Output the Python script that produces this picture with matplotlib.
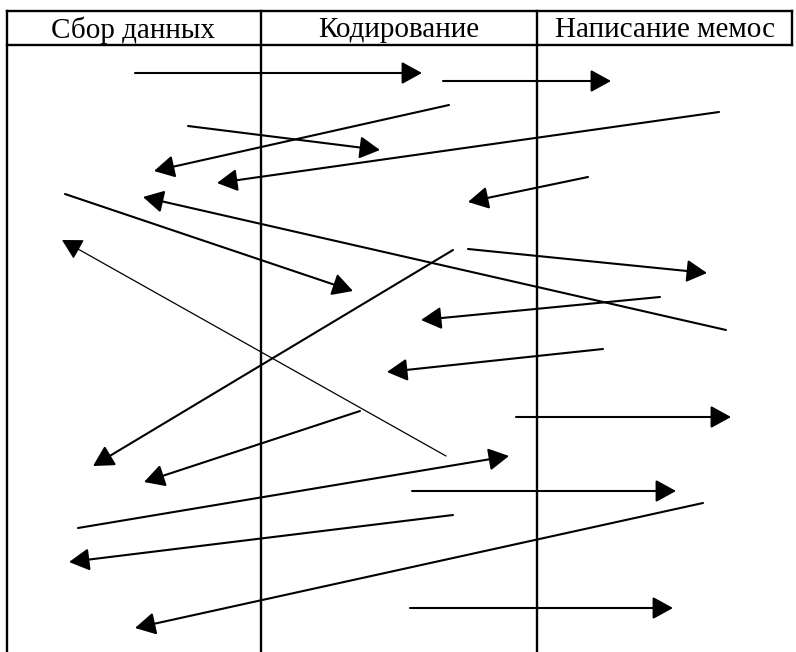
import matplotlib
matplotlib.use('Agg')
import matplotlib.pyplot as plt

# column headers
columns = ['Сбор данных', 'Кодирование', 'Написание мемос']
col_centers = [133, 399, 665]

# arrows in picture pixels: tail -> head
tail_x = [135, 443, 449, 188, 719, 588, 65, 726, 446, 453, 468, 660, 603, 516, 360, 78, 412, 453, 703, 410]
tail_y = [73, 81, 105, 126, 112, 177, 194, 330, 456, 250, 249, 297, 349, 417, 411, 528, 491, 515, 503, 608]
head_x = [422, 611, 154, 380, 217, 468, 353, 143, 62, 93, 707, 421, 387, 731, 144, 509, 676, 69, 135, 673]
head_y = [73, 81, 171, 150, 183, 202, 291, 197, 240, 466, 273, 320, 372, 417, 482, 456, 491, 562, 628, 608]
line_w = [1.5] * 20
line_w[8] = 0.9

W, H = 796, 652
fig = plt.figure(figsize=(W / 100, H / 100), dpi=100)
ax = fig.add_axes([0, 0, 1, 1])
ax.set_xlim(0, W)
ax.set_ylim(H, 0)
ax.axis('off')

# table frame
lw = 1.7
ax.plot([7, 792], [11, 11], color='black', lw=lw)
ax.plot([7, 792], [45, 45], color='black', lw=lw)
ax.plot([792, 792], [11, 45], color='black', lw=lw)
for xv in [7, 261, 537]:
    ax.plot([xv, xv], [11, H], color='black', lw=lw)

for name, cx in zip(columns, col_centers):
    ax.text(cx, 30, name, ha='center', va='center', fontsize=21,
            family='Liberation Serif', color='black')

for x0, y0, x1, y1, w in zip(tail_x, tail_y, head_x, head_y, line_w):
    ax.annotate('', xy=(x1, y1), xytext=(x0, y0),
                arrowprops=dict(arrowstyle='-|>,head_length=0.4,head_width=0.22',
                                mutation_scale=31, color='black', lw=w,
                                shrinkA=0, shrinkB=0))

fig.savefig('out.png', dpi=100)
